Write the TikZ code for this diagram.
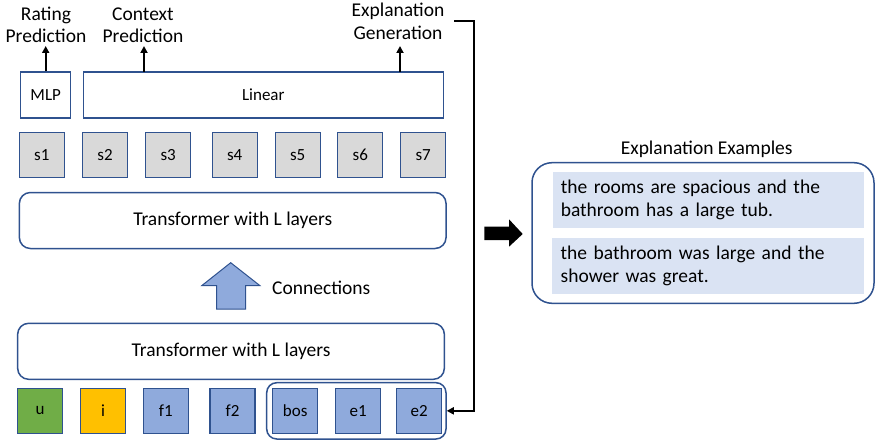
\documentclass[tikz,border=0pt]{standalone}
\usepackage{fontspec}
\setmainfont{Carlito}
\usetikzlibrary{arrows.meta}
\definecolor{edgeblue}{HTML}{2F528F}
\definecolor{grayfill}{HTML}{D9D9D9}
\definecolor{bluefill}{HTML}{8FAADC}
\definecolor{greenfill}{HTML}{70AD47}
\definecolor{yellowfill}{HTML}{FFC000}
\definecolor{lightblue}{HTML}{DAE3F3}
\tikzset{
  tok/.style={draw=edgeblue, line width=1.3pt, minimum width=45pt, minimum height=45pt, inner sep=0pt, font=\fontsize{17}{20}\selectfont},
  headbox/.style={draw=edgeblue, line width=1.3pt, minimum height=46pt, inner sep=0pt, font=\fontsize{17}{20}\selectfont},
  trans/.style={draw=edgeblue, line width=1.5pt, rounded corners=11pt, minimum width=426.7pt, minimum height=56pt, inner sep=0pt, font=\fontsize{19.5}{23}\selectfont},
  lbl/.style={align=center, inner sep=0pt, font=\fontsize{19.5}{22.5}\selectfont},
  outarrow/.style={line width=2.2pt, -{Triangle[length=7pt,width=7pt]}},
  example/.style={fill=lightblue, minimum width=311.5pt, minimum height=55.5pt, inner sep=0pt, text width=295pt, align=left, font=\fontsize{19.5}{23.3}\selectfont}
}
\begin{document}
\begin{tikzpicture}[x=1pt,y=-1pt]
\useasboundingbox (0,0) rectangle (876,444);
% heads
\node[headbox, minimum width=50pt] (mlp) at (45.7,95) {MLP};
\node[headbox, minimum width=360pt] (linear) at (263.3,95) {Linear};
% labels
\node[lbl] (rating) at (46,25) {Rating\\Prediction};
\node[lbl] (context) at (143,25) {Context\\Prediction};
\node[lbl] (expl) at (398,21.5) {Explanation\\Generation};
\coordinate (ctxsrc) at (144,72);
\coordinate (ctxdst) at (144,46);
\coordinate (expsrc) at (400,72);
\coordinate (expdst) at (400,46);
\coordinate (mlpdst) at (45.7,46);
\draw[outarrow] (mlp.north) -- (mlpdst);
\draw[outarrow] (ctxsrc) -- (ctxdst);
\draw[outarrow] (expsrc) -- (expdst);
% s tokens
\foreach \n/\x in {1/41.8,2/105,3/168.2,4/234.7,5/297.7,6/360.3,7/423.2}{
  \node[tok, fill=grayfill] (s\n) at (\x,155) {s\n};
}
% transformers
\node[trans] (ttop) at (232.7,220.5) {Transformer with L layers};
\node[trans] (tbot) at (231,351.3) {Transformer with L layers};
% up block arrow
\draw[draw=edgeblue, fill=bluefill, line width=1pt]
  (216.7,309) -- (216.7,285.7) -- (201.7,285.7) -- (230.7,262.7) -- (260,285.7) -- (245.7,285.7) -- (245.7,309) -- cycle;
\node[lbl, anchor=west] (conn) at (272,288) {Connections};
% bottom tokens
\node[tok, fill=greenfill] (u) at (40.2,410.8) {u};
\node[tok, fill=yellowfill] (i) at (103.2,410.8) {i};
\node[tok, fill=bluefill] (f1) at (165.8,410.8) {f1};
\node[tok, fill=bluefill] (f2) at (232.5,410.8) {f2};
\node[tok, fill=bluefill] (bos) at (295.2,410.8) {bos};
\node[tok, fill=bluefill] (e1) at (358.2,410.8) {e1};
\node[tok, fill=bluefill] (e2) at (419.2,410.8) {e2};
\node[draw=edgeblue, line width=1.5pt, rounded corners=10pt, minimum width=179.3pt, minimum height=56.3pt, inner sep=0pt] (group) at (356.35,410.85) {};
% bracket connector
\coordinate (br) at (454,20.7);
\coordinate (brc) at (474,20.7);
\draw[line width=2.2pt, -{Triangle[length=7pt,width=7pt]}] (br) -- (brc) |- (group.east);
% black block arrow
\fill[black] (484.3,226.7) -- (509,226.7) -- (509,219.3) -- (522.7,234) -- (509,246.7) -- (509,240) -- (484.3,240) -- cycle;
% examples
\node[lbl] (extitle) at (706.7,149) {Explanation Examples};
\node[draw=edgeblue, line width=1.5pt, rounded corners=20pt, minimum width=342pt, minimum height=140.6pt, inner sep=0pt] (exbox) at (703,233) {};
\node[example] (ex1) at (708.3,200) {the rooms are spacious and the\\bathroom has a large tub.};
\node[example] (ex2) at (708.2,266.2) {the bathroom was large and the\\shower was great.};
\end{tikzpicture}
\end{document}
